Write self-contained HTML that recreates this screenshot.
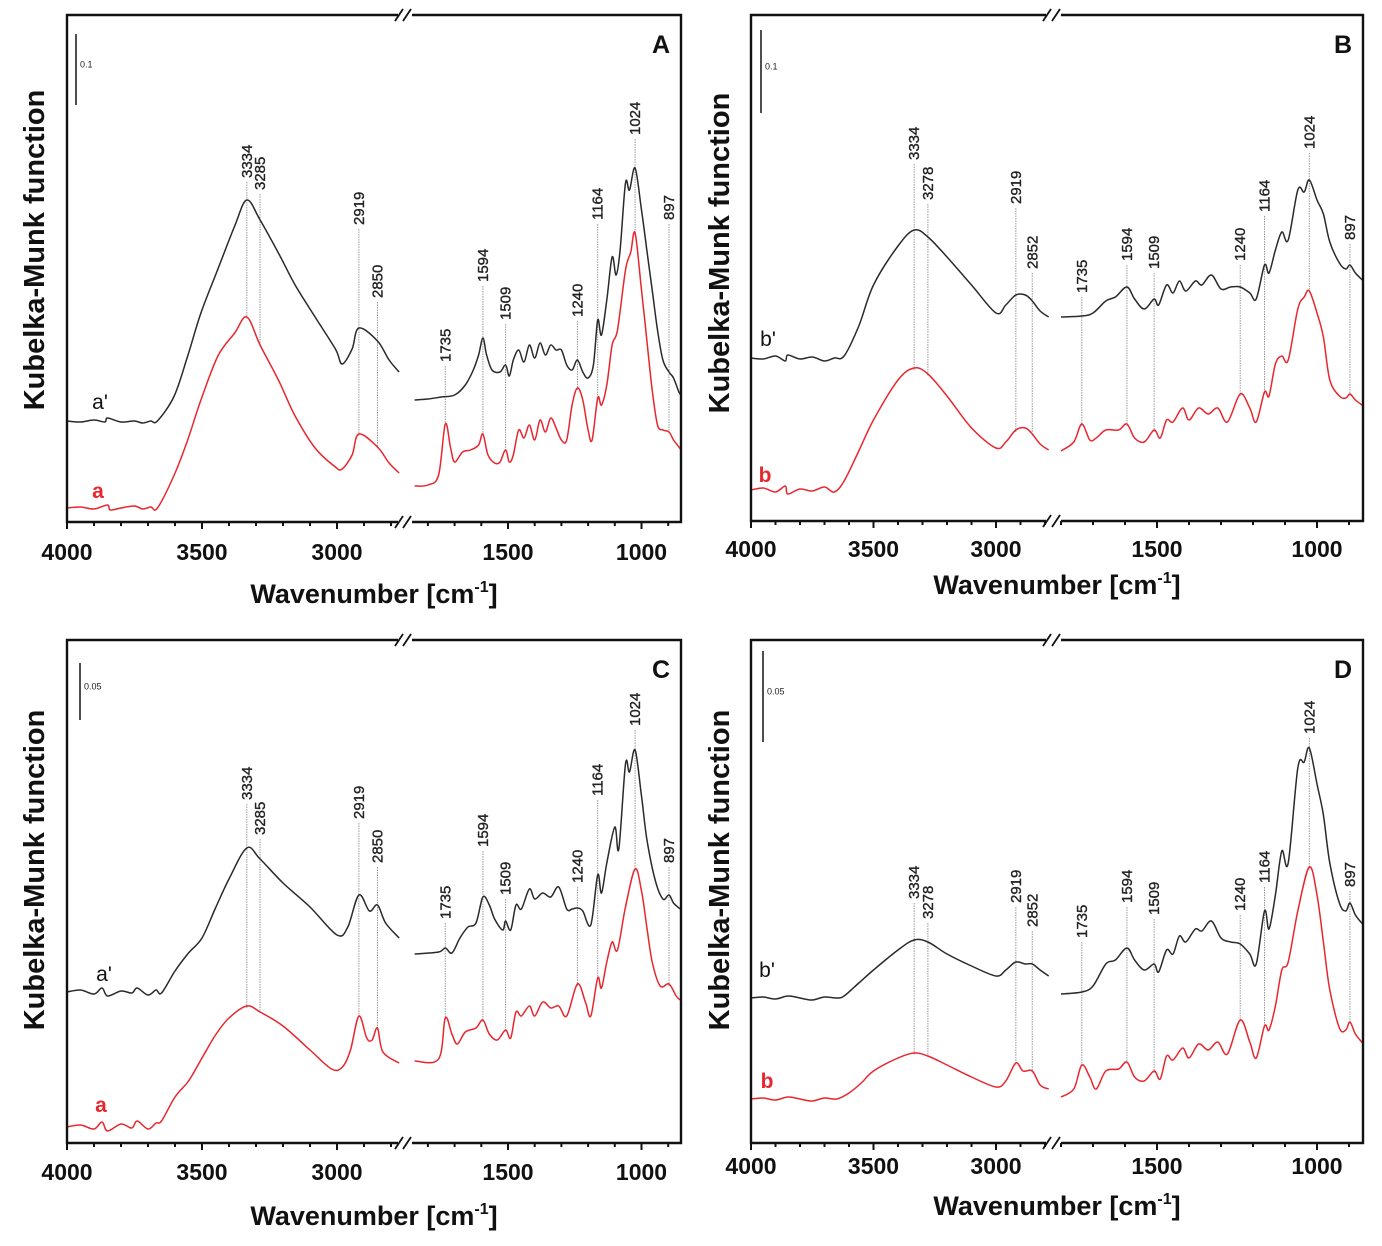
<!DOCTYPE html>
<html>
<head>
<meta charset="utf-8">
<style>
html,body{margin:0;padding:0;background:#fff;}
svg{display:block;font-family:"Liberation Sans",Arial,sans-serif;}
</style>
</head>
<body>
<svg id="fig" width="1382" height="1246" viewBox="0 0 1382 1246" xmlns="http://www.w3.org/2000/svg"></svg>
<script>
// ---------- Panel A data ([wavenumber, K-M height in a.u.]) ----------
const A_topL = [[4000,101],[3950,100],[3900,102],[3860,100],[3850,104],[3800,100],[3750,101],[3720,99],[3690,101],[3665,101],[3603,126],[3553,166],[3504,209],[3441,253],[3379,296],[3334,322],[3285,302],[3217,269],[3155,237],[3081,205],[3006,173],[2981,158],[2944,173],[2919,194],[2850,181],[2807,162],[2770,150]];
const A_botL = [[4000,14],[3950,15],[3900,13],[3850,17],[3840,12],[3800,14],[3750,16],[3720,13],[3690,15],[3665,14],[3603,47],[3553,82],[3504,122],[3441,166],[3379,189],[3334,205],[3285,177],[3217,142],[3155,106],[3081,74],[3006,55],[2981,53],[2944,67],[2919,88],[2850,75],[2807,59],[2770,49]];
const A_topR = [[1850,122],[1800,123],[1750,125],[1700,127],[1660,137],[1630,152],[1610,167],[1594,184],[1580,167],[1560,152],[1530,150],[1509,157],[1495,146],[1480,162],[1460,172],[1440,160],[1420,177],[1400,164],[1380,179],[1360,167],[1340,177],[1320,172],[1300,172],[1280,157],[1260,152],[1240,162],[1220,150],[1200,144],[1180,157],[1164,202],[1150,187],[1130,222],[1110,265],[1095,247],[1080,272],[1060,339],[1045,332],[1024,354],[1000,312],[980,272],[960,232],[940,192],[920,162],[897,150],[880,144],[860,130],[852,127]];
const A_botR = [[1850,36],[1800,37],[1760,47],[1735,98],[1715,74],[1700,60],[1670,70],[1640,72],[1610,77],[1594,88],[1575,67],[1550,59],[1530,60],[1509,72],[1495,60],[1480,67],[1460,92],[1440,84],[1420,97],[1400,82],[1380,102],[1360,90],[1340,104],[1320,94],[1300,82],[1280,82],[1260,117],[1240,134],[1220,122],[1200,92],[1185,82],[1164,124],[1150,117],[1130,137],[1110,177],[1090,192],[1060,252],[1040,270],[1024,289],[1000,232],[980,182],[960,132],[940,97],[920,92],[897,90],[880,82],[860,75],[852,72]];

// ---------- Panel B data ----------
const B_topL = [[4000,163],[3950,162],[3900,165],[3860,160],[3850,166],[3800,162],[3750,164],[3700,160],[3660,163],[3620,165],[3560,195],[3500,236],[3400,275],[3334,291],[3278,284],[3200,264],[3100,236],[3000,208],[2960,216],[2919,226],[2880,226],[2852,220],[2820,210],[2785,204]];
const B_botL = [[4000,31],[3950,33],[3900,29],[3860,35],[3850,27],[3800,32],[3750,30],[3700,34],[3660,29],[3620,40],[3560,70],[3500,101],[3400,141],[3334,153],[3278,147],[3200,125],[3100,93],[3000,73],[2960,79],[2919,91],[2880,93],[2852,87],[2820,77],[2785,71]];
const B_topR = [[1800,204],[1735,205],[1700,208],[1660,220],[1630,224],[1594,234],[1570,222],[1540,212],[1509,222],[1495,216],[1470,236],[1450,228],[1430,240],[1410,230],[1380,240],[1360,236],[1330,246],[1300,232],[1270,234],[1240,234],[1210,228],[1190,222],[1164,256],[1150,248],[1130,271],[1110,289],[1090,281],[1060,331],[1040,329],[1024,341],[1000,321],[980,307],[960,279],[930,258],[910,252],[897,256],[880,248],[855,240]];
const B_botR = [[1800,70],[1760,79],[1735,97],[1710,81],[1690,83],[1660,91],[1620,91],[1594,97],[1570,83],[1540,79],[1509,91],[1490,83],[1470,101],[1450,99],[1420,113],[1400,101],[1370,113],[1340,107],[1310,113],[1280,99],[1240,127],[1210,113],[1190,99],[1164,129],[1150,125],[1130,157],[1110,165],[1090,161],[1060,212],[1040,224],[1024,230],[1000,208],[980,184],[960,141],[930,125],[910,123],[897,127],[880,121],[855,115]];

// ---------- Panel C data ----------
const C_topL = [[4000,151],[3950,153],[3900,149],[3870,155],[3850,147],[3800,152],[3760,150],[3740,155],[3700,148],[3670,153],[3650,150],[3600,172],[3550,190],[3500,205],[3450,235],[3400,264],[3334,295],[3285,284],[3200,260],[3100,236],[3000,208],[2960,216],[2919,248],[2880,232],[2850,238],[2820,220],[2770,205]];
const C_botL = [[4000,16],[3950,18],[3900,14],[3870,21],[3850,12],[3800,19],[3760,15],[3740,22],[3700,14],[3670,20],[3650,22],[3600,46],[3550,62],[3500,85],[3450,108],[3400,125],[3334,137],[3285,131],[3200,117],[3100,93],[3020,74],[2980,76],[2950,93],[2919,127],[2890,105],[2870,103],[2850,115],[2830,91],[2770,80]];
const C_topR = [[1850,189],[1760,191],[1735,195],[1710,190],[1680,205],[1650,216],[1620,220],[1594,246],[1570,238],[1550,224],[1520,213],[1509,222],[1490,213],[1470,238],[1450,234],[1420,254],[1400,244],[1370,250],[1340,246],[1310,256],[1280,234],[1260,234],[1240,235],[1220,232],[1190,218],[1164,268],[1150,250],[1130,280],[1100,316],[1085,294],[1060,379],[1045,371],[1024,393],[1000,347],[980,304],[950,264],[920,244],[897,248],[880,240],[855,234]];
const C_botR = [[1850,82],[1760,84],[1735,125],[1710,109],[1690,99],[1660,111],[1620,115],[1594,123],[1570,109],[1540,103],[1509,113],[1490,105],[1470,131],[1450,127],[1420,137],[1400,127],[1370,141],[1340,135],[1310,137],[1280,127],[1240,159],[1210,141],[1190,127],[1164,165],[1150,155],[1130,181],[1110,201],[1090,193],[1060,236],[1024,274],[1000,252],[980,216],[960,181],[930,157],[897,159],[870,147],[855,143]];

// ---------- Panel D data ----------
const D_topL = [[4000,145],[3950,146],[3900,144],[3850,147],[3800,145],[3750,143],[3700,146],[3650,145],[3620,147],[3560,160],[3500,173],[3400,193],[3334,203],[3278,201],[3200,189],[3100,177],[3000,167],[2960,173],[2919,181],[2880,179],[2852,179],[2820,173],[2785,167]];
const D_botL = [[4000,44],[3950,45],[3900,43],[3850,46],[3800,44],[3750,42],[3700,45],[3650,44],[3600,50],[3550,60],[3500,72],[3400,85],[3334,90],[3278,87],[3200,78],[3100,66],[3000,56],[2960,62],[2919,80],[2890,72],[2852,72],[2820,58],[2785,54]];
const D_topR = [[1800,149],[1735,151],[1700,157],[1660,179],[1630,183],[1594,195],[1570,183],[1540,173],[1509,179],[1495,171],[1470,193],[1450,189],[1430,207],[1410,201],[1380,214],[1360,212],[1330,222],[1300,205],[1270,201],[1240,199],[1210,189],[1190,179],[1164,232],[1150,214],[1130,248],[1110,292],[1090,280],[1060,375],[1040,381],[1024,395],[1000,359],[980,328],[960,280],[930,240],[910,232],[897,240],[880,228],[855,218]];
const D_botR = [[1800,46],[1760,54],[1735,78],[1710,66],[1690,54],[1660,72],[1620,74],[1594,81],[1570,66],[1540,62],[1509,72],[1490,64],[1470,87],[1450,83],[1420,95],[1400,85],[1370,99],[1340,93],[1310,101],[1280,89],[1240,123],[1210,101],[1190,85],[1164,117],[1150,113],[1130,137],[1110,173],[1090,181],[1060,232],[1024,276],[1000,248],[980,201],[960,153],[930,115],[910,113],[897,121],[880,109],[855,99]];

// ---------- Peak annotations ----------
const peaksAC = [3334,3285,2919,2850,1735,1594,1509,1240,1164,1024,897];
const peaksBD = [3334,3278,2919,2852,1735,1594,1509,1240,1164,1024,897];
const labelBottomA = [178,190,225,298,362,282,320,317,220,135,220];
const labelBottomB = [160,200,204,269,293,261,269,261,212,149,240];
const labelBottomC = [800,835,819,863,919,847,895,883,796,726,863];
const labelBottomD = [899,919,903,927,938,903,915,911,883,734,887];

// ---------- Axis ticks ----------
const ticksLeft = [4000,3900,3800,3700,3600,3500,3400,3300,3200,3100,3000,2900,2800];
const ticksRight = [1800,1700,1600,1500,1400,1300,1200,1100,1000,900];
const majorTicks = [4000,3500,3000,1500,1000];

const NS = "http://www.w3.org/2000/svg";
const svg = document.getElementById('fig');
function el(tag, attrs, parent){
  const e = document.createElementNS(NS, tag);
  for (const k in attrs) e.setAttribute(k, attrs[k]);
  (parent || svg).appendChild(e);
  return e;
}

const panels = [
  {id:'a', letter:'A', x0:67, right:681, top:15, bottom:522, kL:0.27, x1500:508, kR:0.267, bL:398, bR:412,
   topL:A_topL, topR:A_topR, botL:A_botL, botR:A_botR, peaks:peaksAC, lab:labelBottomA,
   scale:'0.1', sb:[76,34,105], sampleTop:["a'",100,402], sampleBot:['a',98,491], tickY:560, titleY:603, yTitle:[35,250]},
  {id:'b', letter:'B', x0:751, right:1363, top:15, bottom:521, kL:0.245, x1500:1157, kR:0.32, bL:1046, bR:1061,
   topL:B_topL, topR:B_topR, botL:B_botL, botR:B_botR, peaks:peaksBD, lab:labelBottomB,
   scale:'0.1', sb:[761,30,113], sampleTop:["b'",768,339], sampleBot:['b',765,475], tickY:557, titleY:594, yTitle:[720,253]},
  {id:'c', letter:'C', x0:67, right:681, top:640, bottom:1143, kL:0.27, x1500:508, kR:0.267, bL:398, bR:412,
   topL:C_topL, topR:C_topR, botL:C_botL, botR:C_botR, peaks:peaksAC, lab:labelBottomC,
   scale:'0.05', sb:[80,663,720], sampleTop:["a'",104,974], sampleBot:['a',101,1105], tickY:1180, titleY:1225, yTitle:[35,870]},
  {id:'d', letter:'D', x0:751, right:1363, top:640, bottom:1143, kL:0.245, x1500:1157, kR:0.32, bL:1046, bR:1061,
   topL:D_topL, topR:D_topR, botL:D_botL, botR:D_botR, peaks:peaksBD, lab:labelBottomD,
   scale:'0.05', sb:[763,651,742], sampleTop:["b'",767,970], sampleBot:['b',767,1081], tickY:1174, titleY:1215, yTitle:[720,870]}
];

function interp(arr, wn){
  for (let i=0;i<arr.length-1;i++){
    const a=arr[i], b=arr[i+1];
    if (wn<=a[0] && wn>=b[0]){ const t=(a[0]-wn)/(a[0]-b[0]); return a[1]+(b[1]-a[1])*t; }
  }
  return arr[arr.length-1][1];
}

function smoothPath(pts){
  let d = 'M'+pts[0][0].toFixed(1)+','+pts[0][1].toFixed(1);
  for (let i=0;i<pts.length-1;i++){
    const p0 = pts[Math.max(0,i-1)], p1 = pts[i], p2 = pts[i+1], p3 = pts[Math.min(pts.length-1,i+2)];
    const c1x = p1[0]+(p2[0]-p0[0])/6, c1y = p1[1]+(p2[1]-p0[1])/6;
    const c2x = p2[0]-(p3[0]-p1[0])/6, c2y = p2[1]-(p3[1]-p1[1])/6;
    d += ' C'+c1x.toFixed(1)+','+c1y.toFixed(1)+' '+c2x.toFixed(1)+','+c2y.toFixed(1)+' '+p2[0].toFixed(1)+','+p2[1].toFixed(1);
  }
  return d;
}

panels.forEach(p=>{
  const g = el('g', {});
  
  
  const xs = wn => wn>=2000 ? p.x0+(4000-wn)*p.kL : p.x1500+(1500-wn)*p.kR;
  const ymax = p.bottom - p.top;
  const ys = v => p.bottom - v*(p.bottom-p.top)/ymax;

  p.peaks.forEach((wn,i)=>{
    const x = xs(wn);
    const bot = wn>=2000 ? (p.botL) : (p.botR);
    const yEnd = ys(interp(bot, wn)) + 2;
    const ln = el('line', {x1:x, y1:p.lab[i]+4, x2:x, y2:yEnd, stroke:'#9a9a9a', 'stroke-width':1, 'stroke-dasharray':'1.5,1'}, g);
    
    
    const t = el('text', {x:x+5, y:p.lab[i], 'font-size':15, fill:'#222', stroke:'#222', 'stroke-width':0.35, transform:'rotate(-90 '+(x+5)+' '+p.lab[i]+')'}, g);
    t.textContent = String(wn);
    
    
  });

  const line = (arr, color, name)=>{
    const pts = arr.map(d=>[xs(d[0]), ys(d[1])]);
    const pl = el('path', {d:smoothPath(pts), fill:'none', stroke:color, 'stroke-width':1.5, 'stroke-linejoin':'round'}, g);
    
    
  };
  line(p.topL, '#2a2a2a', 'spectrum-'+p.id+'-prime-high-wn');
  line(p.topR, '#2a2a2a', 'spectrum-'+p.id+'-prime-low-wn');
  line(p.botL, '#e8262e', 'spectrum-'+p.id+'-high-wn');
  line(p.botR, '#e8262e', 'spectrum-'+p.id+'-low-wn');

  const fs = {stroke:'#111', 'stroke-width':2.4, fill:'none'};
  const frame = el('path', Object.assign({d:
    'M'+p.bL+','+p.top+' L'+p.x0+','+p.top+' L'+p.x0+','+p.bottom+' L'+p.bL+','+p.bottom+
    ' M'+p.bR+','+p.bottom+' L'+p.right+','+p.bottom+' L'+p.right+','+p.top+' L'+p.bR+','+p.top}, fs), g);
  
  
  [p.top, p.bottom].forEach(yy=>{
    [p.bL, p.bR-6].forEach(bx=>{
      const b = el('line', {x1:bx-3, y1:yy+6, x2:bx+5, y2:yy-6, stroke:'#111', 'stroke-width':1.8}, g);
      
      
    });
  });

  ticksLeft.concat(ticksRight).forEach(wn=>{
    const x = xs(wn);
    const major = majorTicks.includes(wn);
    const tk = el('line', {x1:x, y1:p.bottom, x2:x, y2:p.bottom+(major?7:4), stroke:'#111', 'stroke-width':2}, g);
    
    
    if (major){
      const tl = el('text', {x:x, y:p.tickY, 'font-size':23, 'font-weight':'bold', 'text-anchor':'middle', fill:'#111'}, g);
      tl.textContent = String(wn);
      
      
    }
  });

  const xt = el('text', {x:(p.x0+p.right)/2, y:p.titleY, 'font-size':27, 'font-weight':'bold', 'text-anchor':'middle', fill:'#111'}, g);
  
  
  xt.appendChild(document.createTextNode('Wavenumber [cm'));
  const sup = el('tspan', {'font-size':16, dy:-11}, xt);
  sup.textContent = '-1';
  const cl = el('tspan', {dy:11}, xt);
  cl.textContent = ']';
  const yt = el('text', {x:p.yTitle[0], y:p.yTitle[1], 'font-size':29, 'font-weight':'bold', 'text-anchor':'middle', fill:'#111', 'dominant-baseline':'central', transform:'rotate(-90 '+p.yTitle[0]+' '+p.yTitle[1]+')'}, g);
  yt.textContent = 'Kubelka-Munk function';
  
  

  const lt = el('text', {x:p.right-20, y:p.top+38, 'font-size':25, 'font-weight':'bold', 'text-anchor':'middle', fill:'#111'}, g);
  lt.textContent = p.letter;
  
  

  const sbl = el('line', {x1:p.sb[0], y1:p.sb[1], x2:p.sb[0], y2:p.sb[2], stroke:'#222', 'stroke-width':1.6}, g);
  
  
  const sbt = el('text', {x:p.sb[0]+4, y:p.sb[1]+(p.sb[2]-p.sb[1])/2-2, 'font-size':9, fill:'#222'}, g);
  sbt.textContent = p.scale;
  
  

  const s1 = el('text', {x:p.sampleTop[1], y:p.sampleTop[2]+7, 'font-size':21, 'text-anchor':'middle', fill:'#111'}, g);
  s1.textContent = p.sampleTop[0];
  
  
  const s2 = el('text', {x:p.sampleBot[1], y:p.sampleBot[2]+7, 'font-size':21, 'font-weight':'bold', 'text-anchor':'middle', fill:'#e8262e'}, g);
  s2.textContent = p.sampleBot[0];
  
  
});
</script>
</body>
</html>
